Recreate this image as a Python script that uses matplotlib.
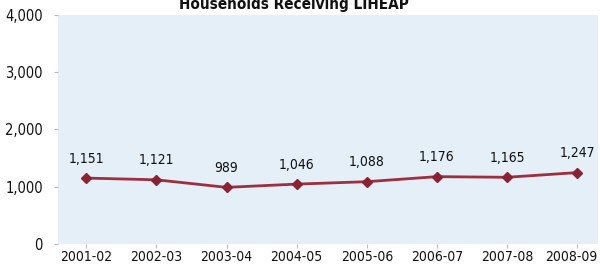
import matplotlib
matplotlib.use("Agg")
import matplotlib.pyplot as plt
import matplotlib.transforms as mtransforms

years = ["2001-02", "2002-03", "2003-04", "2004-05", "2005-06", "2006-07", "2007-08", "2008-09"]
households = [1151, 1121, 989, 1046, 1088, 1176, 1165, 1247]
yticks = [0, 1000, 2000, 3000, 4000]

plt.rcParams['font.family'] = ['DejaVu Sans']
plt.rcParams['font.stretch'] = 'condensed'

fig = plt.figure(figsize=(6, 2.72), dpi=100)
ax = fig.add_axes([0.097, 0.103, 0.9, 0.842])
ax.set_facecolor('#e4eff8')

x = list(range(len(years)))
ax.plot(x, households, color='#9e2f3f', lw=2, marker='D', ms=5,
        mfc='#8a2233', mec='#8a2233', zorder=3)

for i, v in enumerate(households):
    ax.annotate("{:,}".format(v), (i, v), xytext=(0, 9), textcoords='offset points',
                ha='center', va='bottom', fontsize=10, color='#111111')

ax.set_xlim(-0.4, 7.3)
ax.set_ylim(0, 4000)
ax.set_xticks(x)
ax.set_xticklabels(years)
ax.set_yticks(yticks)
ax.set_yticklabels(["{:,}".format(t) for t in yticks])
ax.tick_params(axis='both', colors='#bbbbbb', labelcolor='#111111',
               length=3, width=0.8)
ax.tick_params(axis='x', labelsize=10, pad=1)
ax.tick_params(axis='y', labelsize=10.5, pad=8)
for s in ax.spines.values():
    s.set_visible(False)

# last year label sits a bit left so it stays inside the picture
last = ax.get_xticklabels()[-1]
last.set_transform(last.get_transform() + mtransforms.ScaledTranslation(-6 / 100, 0, fig.dpi_scale_trans))

fig.text(0.49, 0.967, "Households Receiving LIHEAP", ha='center', va='baseline',
         fontsize=11, fontweight='bold', color='#111111')

fig.savefig("out.png", dpi=100)
